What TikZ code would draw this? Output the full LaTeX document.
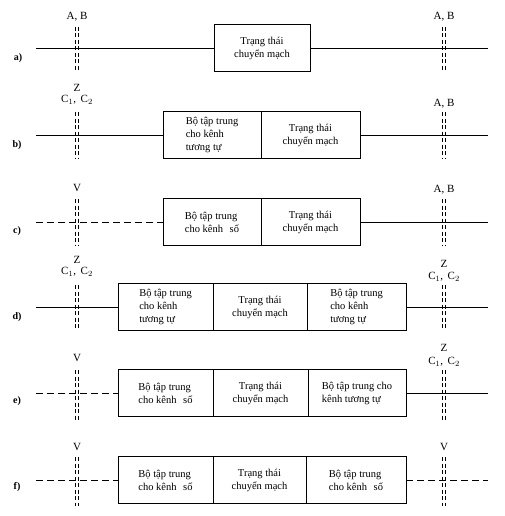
\documentclass[tikz,border=0pt]{standalone}
\usepackage{fontspec}
\setmainfont{Liberation Serif}
\usetikzlibrary{positioning}

\begin{document}
\begin{tikzpicture}[
    x=1pt, y=-1pt,
    cell/.style={draw, line width=0.9pt, minimum height=47pt, outer sep=0pt,
                 inner sep=2pt, align=left, font=\fontsize{10.5}{13}\selectfont},
    midcell/.style={cell, align=center},
    wire/.style={line width=0.9pt},
    dwire/.style={wire, dash pattern=on 7pt off 4pt},
    cut/.style={line width=0.6pt, dash pattern=on 4pt off 2.5pt},
    tag/.style={font=\fontsize{11}{12}\selectfont, inner sep=0pt},
    rowtag/.style={font=\fontsize{10}{11}\bfseries\selectfont, inner sep=0pt},
]
\useasboundingbox (0,0) rectangle (505,516);

% ============================ cut marks =================================
\foreach \yt/\yb in {27/70, 112/158, 199/245, 285/330, 370/420, 457/506} {
  \draw[cut] (75.5,\yt) -- (75.5,\yb);
  \draw[cut] (78.5,\yt) -- (78.5,\yb);
  \draw[cut] (442.5,\yt) -- (442.5,\yb);
  \draw[cut] (445.5,\yt) -- (445.5,\yb);
}

% ============================ a) ========================================
\node[rowtag] (ta) at (18,58) {a)};
\node[tag] (la) at (77,17) {A, B};
\node[tag] (ra) at (444,17) {A, B};
\node[midcell, minimum width=96] (a1) at (262,48) {Trạng thái\\chuyển mạch};
\coordinate (aL) at (36,48);
\coordinate (aR) at (488,48);
\draw[wire] (aL) -- (a1.west);
\draw[wire] (a1.east) -- (aR);

% ============================ b) ========================================
\node[rowtag] (tb) at (17,145) {b)};
\node[tag] (lbz) at (77,88) {Z};
\node[tag] (lbc) at (77,100) {C$_1$,\, C$_2$};
\node[tag] (rb) at (444,104) {A, B};
\node[cell, minimum width=98, anchor=west] (b1) at (163,135)
  {Bộ tập trung\\cho kênh\\tương tự};
\node[midcell, minimum width=99, anchor=west] (b2) at (b1.east)
  {Trạng thái\\chuyển mạch};
\coordinate (bL) at (36,135);
\coordinate (bR) at (488,135);
\draw[wire] (bL) -- (b1.west);
\draw[wire] (b2.east) -- (bR);

% ============================ c) ========================================
\node[rowtag] (tc) at (17,231) {c)};
\node[tag] (lc) at (77,188) {V};
\node[tag] (rc) at (444,190) {A, B};
\node[cell, minimum width=98, anchor=west] (c1) at (163,222)
  {Bộ tập trung\\cho kênh\hspace{4pt} số};
\node[midcell, minimum width=99, anchor=west] (c2) at (c1.east)
  {Trạng thái\\chuyển mạch};
\coordinate (cL) at (36,222);
\coordinate (cR) at (488,222);
\draw[dwire] (cL) -- (c1.west);
\draw[wire] (c2.east) -- (cR);

% ============================ d) ========================================
\node[rowtag] (td) at (17,317) {d)};
\node[tag] (ldz) at (77,260) {Z};
\node[tag] (ldc) at (77,272) {C$_1$,\, C$_2$};
\node[tag] (rdz) at (444,264) {Z};
\node[tag] (rdc) at (444,277) {C$_1$,\, C$_2$};
\node[cell, minimum width=95, anchor=west] (d1) at (118,307)
  {Bộ tập trung\\cho kênh\\tương tự};
\node[midcell, minimum width=94, anchor=west] (d2) at (d1.east)
  {Trạng thái\\chuyển mạch};
\node[cell, minimum width=99, anchor=west] (d3) at (d2.east)
  {Bộ tập trung\\cho kênh\\tương tự};
\coordinate (dL) at (36,307);
\coordinate (dR) at (488,307);
\draw[wire] (dL) -- (d1.west);
\draw[wire] (d3.east) -- (dR);

% ============================ e) ========================================
\node[rowtag] (te) at (17,401) {e)};
\node[tag] (le) at (77,358) {V};
\node[tag] (rez) at (444,348) {Z};
\node[tag] (rec) at (444,362) {C$_1$,\, C$_2$};
\node[cell, minimum width=95, anchor=west] (e1) at (118,393)
  {Bộ tập trung\\cho kênh\hspace{4pt} số};
\node[midcell, minimum width=95, anchor=west] (e2) at (e1.east)
  {Trạng thái\\chuyển mạch};
\node[cell, minimum width=98, anchor=west] (e3) at (e2.east)
  {Bộ tập trung cho\\kênh tương tự};
\coordinate (eL) at (36,393);
\coordinate (eR) at (488,393);
\draw[dwire] (eL) -- (e1.west);
\draw[wire] (e3.east) -- (eR);

% ============================ f) ========================================
\node[rowtag] (tf) at (17,487) {f)};
\node[tag] (lf) at (77,447) {V};
\node[tag] (rf) at (444,447) {V};
\node[cell, minimum width=95, anchor=west] (f1) at (118,480)
  {Bộ tập trung\\cho kênh\hspace{4pt} số};
\node[midcell, minimum width=93, anchor=west] (f2) at (f1.east)
  {Trạng thái\\chuyển mạch};
\node[cell, minimum width=100, anchor=west] (f3) at (f2.east)
  {Bộ tập trung\\cho kênh\hspace{4pt} số};
\coordinate (fL) at (36,480);
\coordinate (fR) at (488,480);
\draw[dwire] (fL) -- (f1.west);
\draw[dwire] (f3.east) -- (fR);

\end{tikzpicture}
\end{document}
